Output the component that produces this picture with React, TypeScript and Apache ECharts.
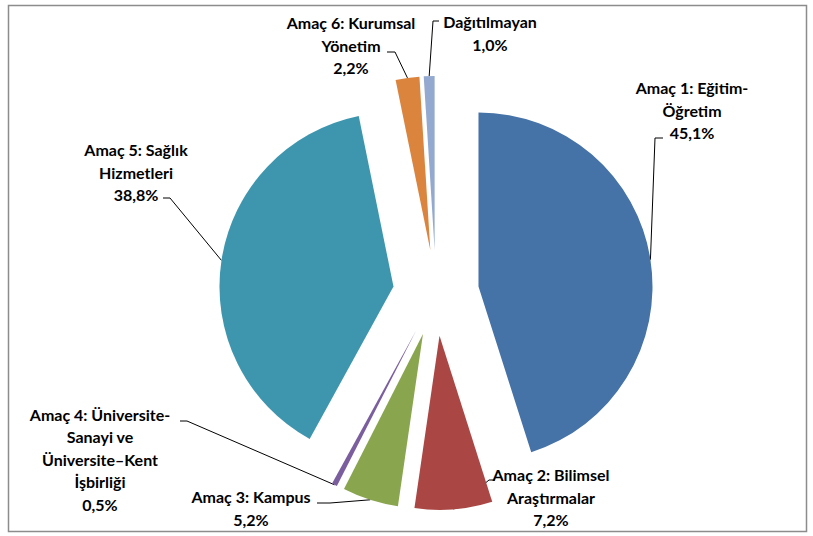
import React, { useEffect, useRef } from "react";
import * as echarts from "echarts";

const categories = [
  "Amaç 1: Eğitim-\nÖğretim",
  "Amaç 2: Bilimsel\nAraştırmalar",
  "Amaç 3: Kampus",
  "Amaç 4: Üniversite-\nSanayi ve\nÜniversite–Kent\nİşbirliği",
  "Amaç 5: Sağlık\nHizmetleri",
  "Amaç 6: Kurumsal\nYönetim",
  "Dağıtılmayan",
];
const values = [45.1, 7.2, 5.2, 0.5, 38.8, 2.2, 1.0];
const colors = ["#4572A7", "#AA4643", "#89A54E", "#7A5E9E", "#3D96AE", "#DB843D", "#93A9CF"];

// label layout: [centerX, middleY, bendX, bendY, tailX, tailY]
const labelLayouts: number[][] = [
  [692, 110, 655, 138, 663, 138],
  [551, 497, 489, 480, 495, 480],
  [251, 508, 330, 503, 317, 503],
  [100, 459, 187, 421, 180, 421],
  [136, 172, 170, 198, 163, 198],
  [351, 45, 395, 52, 387, 52],
  [490, 33, 433, 21, 439, 21],
];

const OFFSET = 43;
const fmt = (v: number) => v.toFixed(1).replace(".", ",") + "%";

export default function App() {
  const ref = useRef<HTMLDivElement>(null);
  useEffect(() => {
    if (!ref.current) return;
    const chart = echarts.init(ref.current, undefined, { renderer: "svg" });
    chart.setOption({
      animation: false,
      backgroundColor: "#ffffff",
      series: [
        {
          type: "pie",
          center: [436, 293],
          radius: [0, 174],
          startAngle: 90,
          clockwise: true,
          selectedMode: "multiple",
          selectedOffset: OFFSET,
          silent: true,
          data: categories.map((name, i) => ({
            name,
            value: values[i],
            selected: true,
            itemStyle: { color: colors[i] },
          })),
          label: { show: false },
          labelLine: { show: false },
          emphasis: { disabled: true },
        },
      ],
    });

    const graphics: any[] = [
      {
        type: "rect",
        shape: { x: 8.5, y: 5.5, width: 798, height: 526 },
        style: { fill: "none", stroke: "#8c8c8c", lineWidth: 1.5 },
        silent: true,
      },
    ];
    try {
      const data = (chart as any).getModel().getSeriesByIndex(0).getData();
      categories.forEach((name, i) => {
        const lay = data.getItemLayout(i);
        const mid = (lay.startAngle + lay.endAngle) / 2;
        const dx = Math.cos(mid) * OFFSET;
        const dy = Math.sin(mid) * OFFSET;
        const ax = lay.cx + dx + Math.cos(mid) * lay.r;
        const ay = lay.cy + dy + Math.sin(mid) * lay.r;
        const L = labelLayouts[i];
        graphics.push({
          type: "polyline",
          shape: { points: [[ax, ay], [L[2], L[3]], [L[4], L[5]]] },
          style: { stroke: "#000000", lineWidth: 1, fill: null },
          silent: true,
        });
        graphics.push({
          type: "text",
          x: L[0],
          y: L[1],
          style: {
            text: name + "\n" + fmt(values[i]),
            fill: "#000000",
            font: "bold 16px Lato",
            lineHeight: 22.5,
            align: "center",
            verticalAlign: "middle",
          },
          silent: true,
        });
      });
    } catch (e) {
      // ignore
    }
    chart.setOption({ graphic: graphics });
    return () => chart.dispose();
  }, []);
  return (
    <div
      ref={ref}
      style={{ position: "fixed", left: 0, top: 0, width: 813, height: 536 }}
    />
  );
}
